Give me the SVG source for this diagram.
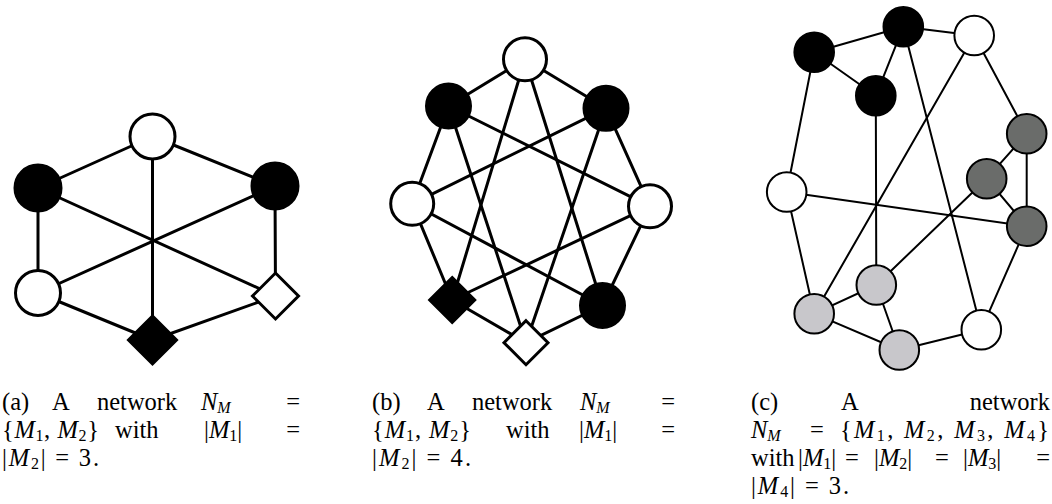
<svg xmlns="http://www.w3.org/2000/svg" width="1052" height="504" viewBox="0 0 1052 504">
<style>
.e3 line{stroke:#000;stroke-width:3;stroke-linecap:round}
.e2 line{stroke:#000;stroke-width:2;stroke-linecap:round}
.n3{stroke:#000;stroke-width:3}
.n2{stroke:#000;stroke-width:2}
.w{fill:#fff}
.b{fill:#000}
.dg{fill:#6a6c6a}
.lg{fill:#c8c7cb}
text{font-family:"Liberation Serif","Times New Roman",serif;font-size:24.5px;fill:#000}
.i{font-style:italic}
.s{font-size:16px}
</style>
<rect width="1052" height="504" fill="#fff"/>

<!-- (a) -->
<g id="a-edges" class="e3">
<line x1="152.5" y1="136.5" x2="38" y2="188"/>
<line x1="152.5" y1="136.5" x2="275" y2="186"/>
<line x1="152.5" y1="136.5" x2="152.5" y2="340"/>
<line x1="38" y1="188" x2="38" y2="293"/>
<line x1="38" y1="188" x2="275.5" y2="296"/>
<line x1="38" y1="293" x2="275" y2="186"/>
<line x1="38" y1="293" x2="152.5" y2="340"/>
<line x1="152.5" y1="340" x2="275.5" y2="296"/>
<line x1="275" y1="186" x2="275.5" y2="296"/>
</g>
<g id="a-T"><circle class="n3 w" cx="152.5" cy="136.5" r="22.5"/></g>
<g id="a-LB"><circle class="n3 b" cx="38" cy="188" r="23"/></g>
<g id="a-LW"><circle class="n3 w" cx="38" cy="293" r="22.5"/></g>
<g id="a-BD"><polygon class="n3 b" points="152.5,316 176.5,340 152.5,364 128.5,340"/></g>
<g id="a-RB"><circle class="n3 b" cx="275" cy="186" r="23"/></g>
<g id="a-WD"><polygon class="n3 w" points="275.5,273 298.5,296 275.5,319 252.5,296"/></g>

<!-- (b) -->
<g id="b-edges" class="e3">
<line x1="525" y1="59.3" x2="448.5" y2="106"/>
<line x1="525" y1="59.3" x2="606" y2="108.3"/>
<line x1="525" y1="59.3" x2="452.2" y2="300"/>
<line x1="525" y1="59.3" x2="602.5" y2="305.5"/>
<line x1="448.5" y1="106" x2="412.2" y2="203.8"/>
<line x1="448.5" y1="106" x2="650" y2="206.3"/>
<line x1="448.5" y1="106" x2="526" y2="342.7"/>
<line x1="606" y1="108.3" x2="412.2" y2="203.8"/>
<line x1="606" y1="108.3" x2="650" y2="206.3"/>
<line x1="606" y1="108.3" x2="526" y2="342.7"/>
<line x1="412.2" y1="203.8" x2="452.2" y2="300"/>
<line x1="412.2" y1="203.8" x2="602.5" y2="305.5"/>
<line x1="650" y1="206.3" x2="452.2" y2="300"/>
<line x1="650" y1="206.3" x2="602.5" y2="305.5"/>
<line x1="452.2" y1="300" x2="526" y2="342.7"/>
<line x1="602.5" y1="305.5" x2="526" y2="342.7"/>
</g>
<g id="b-T"><circle class="n3 w" cx="525" cy="59.3" r="21.5"/></g>
<g id="b-LB"><circle class="n3 b" cx="448.5" cy="106" r="22"/></g>
<g id="b-RB"><circle class="n3 b" cx="606" cy="108.3" r="22"/></g>
<g id="b-LW"><circle class="n3 w" cx="412.2" cy="203.8" r="21.5"/></g>
<g id="b-RW"><circle class="n3 w" cx="650" cy="206.3" r="21.5"/></g>
<g id="b-BD"><polygon class="n3 b" points="452.2,277.5 474.7,300 452.2,322.5 429.7,300"/></g>
<g id="b-BRB"><circle class="n3 b" cx="602.5" cy="305.5" r="22"/></g>
<g id="b-WD"><polygon class="n3 w" points="526,320.7 548,342.7 526,364.7 504,342.7"/></g>

<!-- (c) -->
<g id="c-edges" class="e2">
<line x1="814.2" y1="52.2" x2="903.3" y2="26.8"/>
<line x1="814.2" y1="52.2" x2="875.8" y2="95.8"/>
<line x1="903.3" y1="26.8" x2="875.8" y2="95.8"/>
<line x1="903.3" y1="26.8" x2="974.2" y2="35.5"/>
<line x1="903.3" y1="26.8" x2="981.3" y2="329.7"/>
<line x1="814.2" y1="52.2" x2="786.7" y2="192"/>
<line x1="875.8" y1="95.8" x2="876.3" y2="285"/>
<line x1="974.2" y1="35.5" x2="814.2" y2="313.7"/>
<line x1="974.2" y1="35.5" x2="1026.7" y2="133.7"/>
<line x1="1026.7" y1="133.7" x2="986.7" y2="178.7"/>
<line x1="1026.7" y1="133.7" x2="1026.7" y2="226.2"/>
<line x1="986.7" y1="178.7" x2="1026.7" y2="226.2"/>
<line x1="986.7" y1="178.7" x2="876.3" y2="285"/>
<line x1="786.7" y1="192" x2="1026.7" y2="226.2"/>
<line x1="786.7" y1="192" x2="814.2" y2="313.7"/>
<line x1="1026.7" y1="226.2" x2="981.3" y2="329.7"/>
<line x1="876.3" y1="285" x2="814.2" y2="313.7"/>
<line x1="876.3" y1="285" x2="899.3" y2="350"/>
<line x1="814.2" y1="313.7" x2="899.3" y2="350"/>
<line x1="899.3" y1="350" x2="981.3" y2="329.7"/>
</g>
<g id="c-B1"><circle class="n2 b" cx="814.2" cy="52.2" r="19.8"/></g>
<g id="c-B2"><circle class="n2 b" cx="903.3" cy="26.8" r="19.8"/></g>
<g id="c-B3"><circle class="n2 b" cx="875.8" cy="95.8" r="19.8"/></g>
<g id="c-WT"><circle class="n2 w" cx="974.2" cy="35.5" r="19.8"/></g>
<g id="c-DG1"><circle class="n2 dg" cx="1026.7" cy="133.7" r="19.8"/></g>
<g id="c-DG2"><circle class="n2 dg" cx="986.7" cy="178.7" r="19.8"/></g>
<g id="c-DG3"><circle class="n2 dg" cx="1026.7" cy="226.2" r="19.8"/></g>
<g id="c-WL"><circle class="n2 w" cx="786.7" cy="192" r="19.8"/></g>
<g id="c-LG1"><circle class="n2 lg" cx="876.3" cy="285" r="19.8"/></g>
<g id="c-LG2"><circle class="n2 lg" cx="814.2" cy="313.7" r="19.8"/></g>
<g id="c-LG3"><circle class="n2 lg" cx="899.3" cy="350" r="19.8"/></g>
<g id="c-WBR"><circle class="n2 w" cx="981.3" cy="329.7" r="19.8"/></g>

<!-- captions -->
<g id="caption-a">
<text x="2" y="410">(a)</text>
<text x="52" y="410">A</text>
<text x="97" y="410">network</text>
<text x="201" y="410"><tspan class="i">N</tspan><tspan class="i s" dy="2.5">M</tspan></text>
<text x="300" y="410" text-anchor="end">=</text>
<text x="2" y="438" textLength="97">{<tspan class="i">M</tspan><tspan class="s" dy="2.5">1</tspan><tspan dy="-2.5">, </tspan><tspan class="i">M</tspan><tspan class="s" dy="2.5">2</tspan><tspan dy="-2.5">}</tspan></text>
<text x="115" y="438">with</text>
<text x="204" y="438">|<tspan class="i">M</tspan><tspan class="s" dy="2.5">1</tspan><tspan dy="-2.5">|</tspan></text>
<text x="300" y="438" text-anchor="end">=</text>
<text x="2" y="466" textLength="97">|<tspan class="i">M</tspan><tspan class="s" dy="2.5">2</tspan><tspan dy="-2.5">| = 3.</tspan></text>
</g>
<g id="caption-b">
<text x="372" y="410">(b)</text>
<text x="427" y="410">A</text>
<text x="472" y="410">network</text>
<text x="580" y="410"><tspan class="i">N</tspan><tspan class="i s" dy="2.5">M</tspan></text>
<text x="675" y="410" text-anchor="end">=</text>
<text x="372" y="438" textLength="99">{<tspan class="i">M</tspan><tspan class="s" dy="2.5">1</tspan><tspan dy="-2.5">, </tspan><tspan class="i">M</tspan><tspan class="s" dy="2.5">2</tspan><tspan dy="-2.5">}</tspan></text>
<text x="506" y="438">with</text>
<text x="579" y="438">|<tspan class="i">M</tspan><tspan class="s" dy="2.5">1</tspan><tspan dy="-2.5">|</tspan></text>
<text x="675" y="438" text-anchor="end">=</text>
<text x="372" y="466" textLength="99">|<tspan class="i">M</tspan><tspan class="s" dy="2.5">2</tspan><tspan dy="-2.5">| = 4.</tspan></text>
</g>
<g id="caption-c">
<text x="751" y="410">(c)</text>
<text x="841" y="410">A</text>
<text x="1050" y="410" text-anchor="end">network</text>
<text x="751" y="438"><tspan class="i">N</tspan><tspan class="i s" dy="2.5">M</tspan></text>
<text x="810" y="438">=</text>
<text x="840" y="438" textLength="209">{<tspan class="i">M</tspan><tspan class="s" dy="2.5">1</tspan><tspan dy="-2.5">, </tspan><tspan class="i">M</tspan><tspan class="s" dy="2.5">2</tspan><tspan dy="-2.5">, </tspan><tspan class="i">M</tspan><tspan class="s" dy="2.5">3</tspan><tspan dy="-2.5">, </tspan><tspan class="i">M</tspan><tspan class="s" dy="2.5">4</tspan><tspan dy="-2.5">}</tspan></text>
<text x="751" y="466">with</text>
<text x="798" y="466">|<tspan class="i">M</tspan><tspan class="s" dy="2.5">1</tspan><tspan dy="-2.5">|</tspan></text>
<text x="845" y="466">=</text>
<text x="874" y="466">|<tspan class="i">M</tspan><tspan class="s" dy="2.5">2</tspan><tspan dy="-2.5">|</tspan></text>
<text x="935" y="466">=</text>
<text x="963" y="466">|<tspan class="i">M</tspan><tspan class="s" dy="2.5">3</tspan><tspan dy="-2.5">|</tspan></text>
<text x="1050" y="466" text-anchor="end">=</text>
<text x="751" y="494" textLength="98">|<tspan class="i">M</tspan><tspan class="s" dy="2.5">4</tspan><tspan dy="-2.5">| = 3.</tspan></text>
</g>
</svg>
